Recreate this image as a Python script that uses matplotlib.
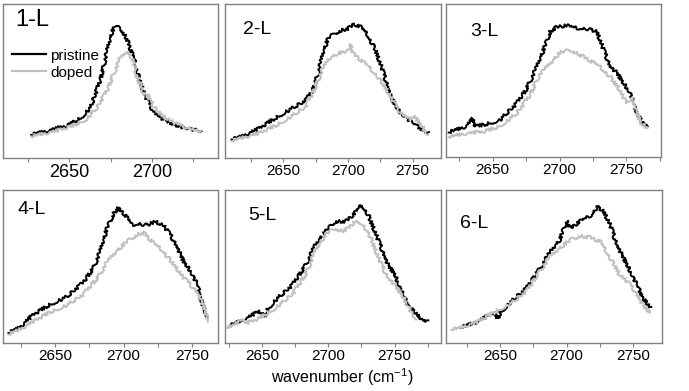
import matplotlib
matplotlib.use("Agg")
import matplotlib.pyplot as plt
from matplotlib.ticker import MultipleLocator
from matplotlib.lines import Line2D

plt.rcParams['font.family'] = ['Liberation Sans', 'DejaVu Sans']
plt.rcParams['mathtext.fontset'] = 'custom'
plt.rcParams['mathtext.rm'] = 'Liberation Sans'

# ---- data (wavenumber, normalised intensity) ----
labels = ["1-L", "2-L", "3-L", "4-L", "5-L", "6-L"]

p1_x = [2627, 2638, 2649, 2657, 2663, 2669, 2673, 2676, 2678, 2682, 2685, 2689, 2693, 2697, 2701, 2707, 2715, 2723, 2730]
p1_y = [0.15, 0.18, 0.21, 0.26, 0.33, 0.51, 0.70, 0.82, 0.86, 0.83, 0.77, 0.65, 0.49, 0.38, 0.30, 0.25, 0.21, 0.19, 0.17]
d1_x = [2627, 2640, 2650, 2660, 2667, 2673, 2677, 2681, 2685, 2688, 2691, 2695, 2698, 2699, 2701, 2707, 2715, 2723, 2730]
d1_y = [0.14, 0.17, 0.20, 0.25, 0.33, 0.44, 0.55, 0.65, 0.69, 0.65, 0.53, 0.42, 0.38, 0.41, 0.33, 0.27, 0.22, 0.19, 0.17]

p2_x = [2610, 2618, 2631, 2644, 2656, 2667, 2673, 2677, 2681, 2685, 2690, 2695, 2700, 2705, 2710, 2715, 2721, 2726, 2731, 2733, 2739, 2745, 2753, 2762]
p2_y = [0.12, 0.14, 0.19, 0.26, 0.32, 0.37, 0.44, 0.55, 0.69, 0.78, 0.81, 0.83, 0.84, 0.87, 0.85, 0.80, 0.71, 0.59, 0.46, 0.40, 0.31, 0.26, 0.21, 0.16]
d2_x = [2610, 2618, 2631, 2644, 2656, 2667, 2674, 2680, 2685, 2692, 2700, 2702, 2704, 2708, 2715, 2723, 2731, 2736, 2741, 2749, 2752, 2754, 2756, 2762]
d2_y = [0.11, 0.13, 0.16, 0.21, 0.27, 0.33, 0.44, 0.57, 0.64, 0.68, 0.69, 0.74, 0.68, 0.65, 0.60, 0.53, 0.43, 0.35, 0.29, 0.25, 0.27, 0.24, 0.22, 0.15]

p3_x = [2617, 2630, 2635, 2637, 2643, 2655, 2668, 2675, 2683, 2689, 2693, 2698, 2705, 2713, 2720, 2728, 2733, 2738, 2743, 2748, 2753, 2756, 2759, 2763, 2766]
p3_y = [0.16, 0.20, 0.25, 0.20, 0.21, 0.24, 0.35, 0.44, 0.59, 0.72, 0.82, 0.85, 0.86, 0.84, 0.84, 0.82, 0.70, 0.59, 0.55, 0.48, 0.42, 0.33, 0.27, 0.21, 0.21]
d3_x = [2617, 2630, 2643, 2655, 2668, 2678, 2685, 2693, 2700, 2708, 2715, 2723, 2730, 2738, 2745, 2750, 2754, 2758, 2761, 2766]
d3_y = [0.13, 0.155, 0.165, 0.20, 0.285, 0.405, 0.54, 0.61, 0.68, 0.70, 0.67, 0.63, 0.59, 0.525, 0.44, 0.35, 0.39, 0.285, 0.22, 0.19]

p4_x = [2616, 2624, 2634, 2646, 2659, 2671, 2678, 2683, 2688, 2693, 2696, 2701, 2706, 2712, 2717, 2723, 2729, 2734, 2739, 2744, 2749, 2754, 2757, 2761]
p4_y = [0.065, 0.10, 0.185, 0.25, 0.305, 0.40, 0.49, 0.60, 0.75, 0.85, 0.88, 0.84, 0.77, 0.78, 0.77, 0.795, 0.77, 0.71, 0.63, 0.53, 0.47, 0.38, 0.27, 0.17]
d4_x = [2616, 2624, 2634, 2646, 2659, 2671, 2681, 2688, 2695, 2702, 2710, 2715, 2722, 2729, 2737, 2744, 2749, 2754, 2759, 2762]
d4_y = [0.055, 0.087, 0.14, 0.20, 0.25, 0.32, 0.425, 0.53, 0.60, 0.66, 0.71, 0.72, 0.65, 0.60, 0.51, 0.425, 0.38, 0.33, 0.23, 0.14]

p5_x = [2625, 2638, 2648, 2652, 2654, 2660, 2673, 2683, 2690, 2698, 2705, 2713, 2719, 2725, 2730, 2735, 2740, 2745, 2750, 2755, 2760, 2765, 2770, 2775]
p5_y = [0.11, 0.16, 0.21, 0.17, 0.22, 0.28, 0.38, 0.51, 0.64, 0.73, 0.795, 0.795, 0.84, 0.90, 0.84, 0.73, 0.62, 0.51, 0.45, 0.34, 0.25, 0.20, 0.16, 0.14]
d5_x = [2623, 2630, 2634, 2638, 2648, 2660, 2673, 2683, 2690, 2698, 2705, 2710, 2715, 2720, 2725, 2730, 2735, 2740, 2745, 2750, 2755, 2760, 2765]
d5_y = [0.10, 0.12, 0.16, 0.13, 0.16, 0.23, 0.32, 0.45, 0.60, 0.71, 0.75, 0.73, 0.75, 0.795, 0.77, 0.73, 0.62, 0.51, 0.425, 0.38, 0.32, 0.25, 0.15]

p6_x = [2620, 2633, 2645, 2648, 2650, 2658, 2670, 2680, 2688, 2695, 2700, 2703, 2710, 2718, 2723, 2728, 2733, 2738, 2743, 2748, 2753, 2758, 2763]
p6_y = [0.10, 0.14, 0.20, 0.16, 0.20, 0.27, 0.36, 0.49, 0.60, 0.675, 0.80, 0.75, 0.795, 0.83, 0.89, 0.86, 0.77, 0.64, 0.555, 0.47, 0.38, 0.29, 0.23]
d6_x = [2613, 2620, 2633, 2645, 2658, 2670, 2680, 2688, 2695, 2703, 2710, 2718, 2725, 2733, 2740, 2748, 2753, 2758, 2763]
d6_y = [0.087, 0.10, 0.14, 0.20, 0.26, 0.34, 0.47, 0.57, 0.62, 0.675, 0.70, 0.69, 0.665, 0.555, 0.45, 0.38, 0.32, 0.24, 0.20]

pristine = [(p1_x, p1_y), (p2_x, p2_y), (p3_x, p3_y), (p4_x, p4_y), (p5_x, p5_y), (p6_x, p6_y)]
doped = [(d1_x, d1_y), (d2_x, d2_y), (d3_x, d3_y), (d4_x, d4_y), (d5_x, d5_y), (d6_x, d6_y)]
xlims = [(2610, 2740), (2605, 2772), (2615, 2776), (2612, 2769), (2622, 2785), (2609, 2772)]

# ---- layout (pixel boxes: left, right, top, bottom) ----
W, H = 689, 391
boxes = [(3, 218, 4, 158), (225, 441, 4, 158), (446, 661, 4, 157),
         (3, 218, 190, 343), (225, 441, 190, 343), (446, 662, 190, 343)]
label_pos = [(15, 20), (243, 30), (470, 32), (17, 210), (248, 215), (460, 223)]

fig = plt.figure(figsize=(W / 100, H / 100), dpi=100)
spine_col = "#808080"
for i in range(6):
    l, r, t, b = boxes[i]
    ax = fig.add_axes([l / W, 1 - b / H, (r - l) / W, (b - t) / H])
    lp, = ax.plot(*pristine[i], color="black", lw=1.4)
    ld, = ax.plot(*doped[i], color="#c0c0c0", lw=1.4)
    # measurement-noise look (drawing style only)
    lp.set_sketch_params(scale=1.6, length=2.5, randomness=8)
    ld.set_sketch_params(scale=1.6, length=2.5, randomness=8)
    ax.set_xlim(*xlims[i])
    ax.set_ylim(0, 1)
    ax.set_yticks([])
    ax.xaxis.set_major_locator(MultipleLocator(50))
    ax.xaxis.set_minor_locator(MultipleLocator(25))
    big = (i == 0)
    ax.tick_params(axis="x", which="both", direction="out", length=3, width=0.8,
                   color=spine_col, labelsize=13 if big else 11, pad=1.5)
    for s in ax.spines.values():
        s.set_color(spine_col)
        s.set_linewidth(1.0)
    lx, ly = label_pos[i]
    fig.text(lx / W, 1 - ly / H, labels[i], fontsize=17 if big else 14,
             ha="left", va="center")
    if big:
        handles = [Line2D([], [], color="black", lw=1.6),
                   Line2D([], [], color="#c0c0c0", lw=1.6)]
        ax.legend(handles, ["pristine", "doped"], loc="upper left",
                  bbox_to_anchor=(0.0, 0.77), frameon=False,
                  fontsize=11, handlelength=2.2, handletextpad=0.3,
                  labelspacing=0.2, borderaxespad=0.2)

fig.text(342 / W, 1 - 377 / H, "wavenumber (cm$^{\\mathrm{-1}}$)", fontsize=11.5,
         ha="center", va="center")

fig.savefig("out.png", dpi=100)
